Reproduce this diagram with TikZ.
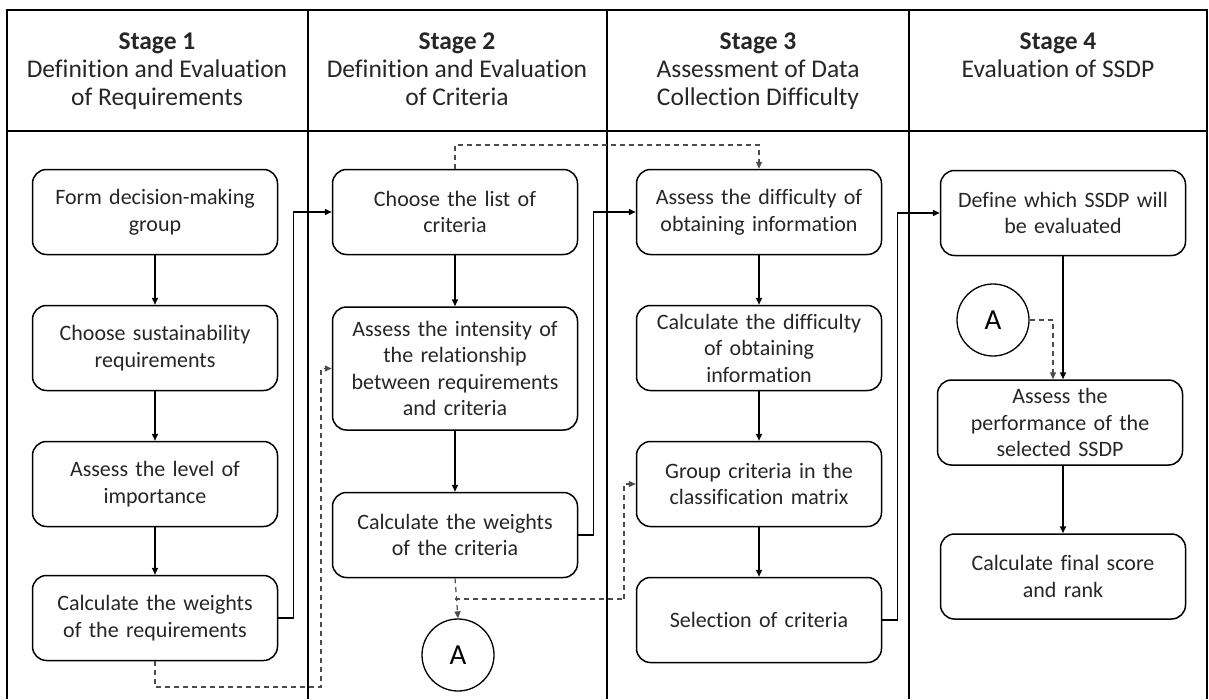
\documentclass[tikz,border=0pt]{standalone}
\usepackage{fontspec}
\setmainfont{Carlito}[Ligatures={NoCommon}]
\usetikzlibrary{arrows.meta}

\begin{document}
\begin{tikzpicture}[x=1pt, y=-1pt,
    stagebox/.style={draw, rounded corners=14pt, line width=1.5pt, minimum width=245pt,
        minimum height=85pt, text width=236pt, align=center, inner sep=0pt,
        font=\fontsize{22}{26.5}\selectfont, text=black!85},
    header/.style={anchor=north, align=center, inner sep=0pt,
        font=\fontsize{25.5}{28}\selectfont, text=black!85},
    connector/.style={draw, circle, line width=1.3pt, minimum size=72pt, inner sep=0pt,
        font=\fontsize{29}{29}\selectfont},
    flow/.style={line width=1.5pt, -{Triangle[length=7pt,width=6pt]}},
    link/.style={line width=1.2pt, black!70, dash pattern=on 5pt off 4pt,
        -{Triangle[length=7pt,width=6pt]}}
]
\useasboundingbox (0,0) rectangle (1209,699);

% Table frame
\draw[line width=1.6pt] (7,699) -- (7,10) -- (1207,10) -- (1207,699);
\draw[line width=1.6pt] (7,131) -- (1207,131);
\foreach \x in {308,607,909}
    \draw[line width=1.6pt] (\x,10) -- (\x,699);

% Stage headers
\node[header] (head1) at (157,33) {\textbf{Stage 1}\\Definition and Evaluation\\of Requirements};
\node[header] (head2) at (457,33) {\textbf{Stage 2}\\Definition and Evaluation\\of Criteria};
\node[header] (head3) at (758,33) {\textbf{Stage 3}\\Assessment of Data\\Collection Difficulty};
\node[header] (head4) at (1058,33) {\textbf{Stage 4}\\Evaluation of SSDP};

% Stage 1 steps
\node[stagebox] (req1) at (155,212) {Form decision-making\\group};
\node[stagebox] (req2) at (155,348) {Choose sustainability\\requirements};
\node[stagebox] (req3) at (155,484) {Assess the level of\\importance};
\node[stagebox] (req4) at (155,618) {Calculate the weights\\of the requirements};

% Stage 2 steps
\node[stagebox] (cri1) at (455,212) {Choose the list of\\criteria};
\node[stagebox, minimum height=123pt] (cri2) at (455,368.5) {Assess the intensity of\\the relationship\\between requirements\\and criteria};
\node[stagebox] (cri3) at (455,535) {Calculate the weights\\of the criteria};
\node[connector] (conA) at (458,655) {A};

% Stage 3 steps
\node[stagebox] (dat1) at (759,212) {Assess the difficulty of\\obtaining information};
\node[stagebox] (dat2) at (759,348) {Calculate the difficulty\\of obtaining\\information};
\node[stagebox] (dat3) at (759,484) {Group criteria in the\\classification matrix};
\node[stagebox] (dat4) at (759,620) {Selection of criteria\\[26.5pt]};

% Stage 4 steps
\node[stagebox] (eva1) at (1063,213) {Define which SSDP will\\be evaluated};
\node[connector] (conB) at (993,320) {A};
\node[stagebox] (eva2) at (1060,422.5) {Assess the\\performance of the\\selected SSDP};
\node[stagebox] (eva3) at (1063,576.5) {Calculate final score\\and rank};

% Solid flow inside stages
\draw[flow] (req1) -- (req2);
\draw[flow] (req2) -- (req3);
\draw[flow] (req3) -- (req4);
\draw[flow] (cri1) -- (cri2);
\draw[flow] (cri2) -- (cri3);
\draw[flow] (dat1) -- (dat2);
\draw[flow] (dat2) -- (dat3);
\draw[flow] (dat3) -- (dat4);
\draw[flow] (eva1.south) -- (eva1.south |- eva2.north);
\draw[flow] (eva1.south |- eva2.south) -- (eva1.south |- eva3.north);

% Solid flow between stages
\draw[flow] (req4.east) -- ++(15,0) |- (cri1.west);
\draw[flow] (cri3.east) -- ++(15,0) |- (dat1.west);
\draw[flow] (dat4.east) -- ++(15,0) |- (eva1.west);

% Dashed feedback links
\coordinate (bend1) at (321,687);
\coordinate (bend2) at (624,599);
\coordinate (bend3) at (dat1.north |- 0,145);
\draw[link] (req4.south) |- (bend1) |- (cri2.west);
\draw[link] (cri3.south) -- (conA.north);
\draw[link, -] (cri3.south |- bend2) -- (bend2);
\draw[link] (bend2) |- (dat3.west);
\draw[link] (cri1.north) |- (bend3) -- (dat1.north);
\draw[link] (conB.east) -| ([xshift=-7pt]eva2.north);

\end{tikzpicture}
\end{document}
